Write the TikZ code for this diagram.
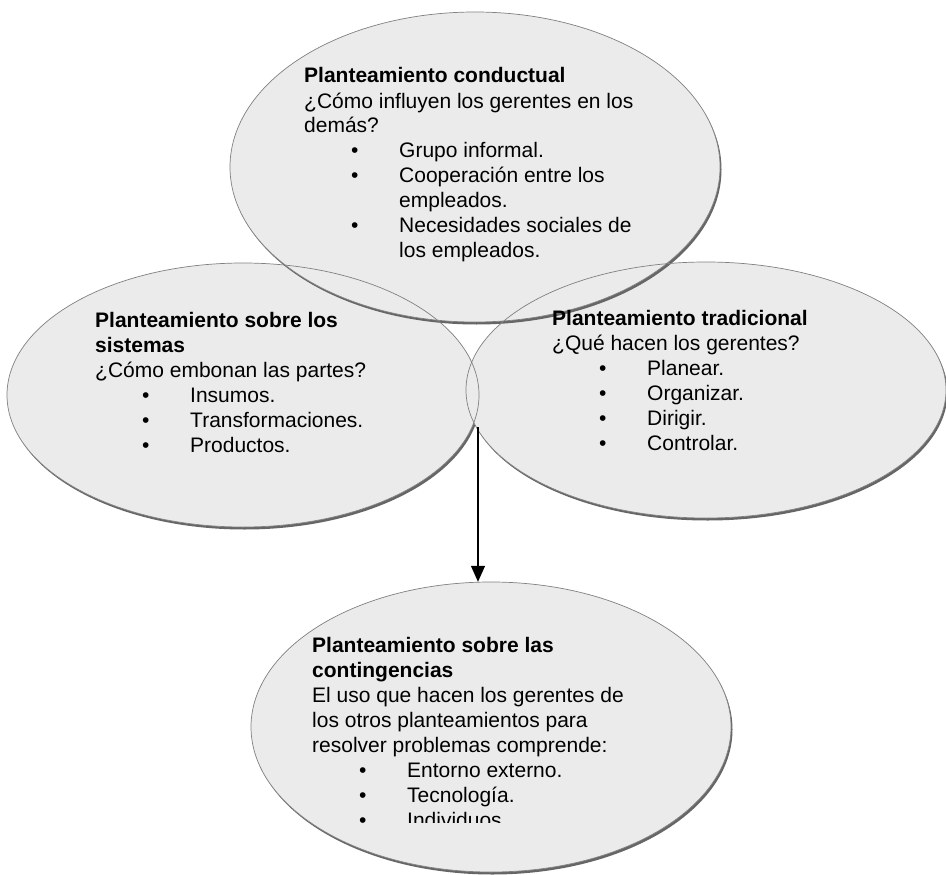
\documentclass[tikz,border=0pt]{standalone}
\usepackage{fontspec}
\setmainfont{Liberation Sans}
\usetikzlibrary{shapes.geometric,arrows.meta}

% bullet item and continuation line inside a bubble text block
\newcommand\itm{\hspace*{47pt}\makebox[48pt][l]{\textbullet}}
\newcommand\cont{\hspace*{95pt}}
\newcommand\blocktext[1]{\parbox[t]{440pt}{\raggedright #1}}

\begin{document}
\begin{tikzpicture}[x=1pt,y=-1pt,
  bubble/.style={ellipse, inner sep=0pt, fill=black!8},
  edge/.style={draw=black!50, line width=0.7pt},
  shadowfill/.style={fill=black!60},
  blocktxt/.style={anchor=base west, inner sep=0pt,
                   font=\fontsize{21}{25}\selectfont},
  flow/.style={-{Triangle[length=16pt,width=14pt]}, line width=1.3pt}]

\useasboundingbox[fill=white] (0,0) rectangle (946,875);

% the four approaches as overlapping bubbles with a lower-right shadow
\foreach \n/\cx/\cy/\rx/\ry in {left/243/395/236/132, right/706/390/240/128,
                                top/475/167/245/155, bottom/491/727/240/145} {
  \begin{scope}[even odd rule]
    \clip (0,0) rectangle (946,875)
         (\cx,\cy) ellipse [x radius=\rx, y radius=\ry];
    \fill[shadowfill] (\cx+1.5,\cy+2.5) ellipse [x radius=\rx, y radius=\ry];
  \end{scope}
  \node[bubble, minimum width={2*\rx pt}, minimum height={2*\ry pt}] (\n) at (\cx,\cy) {};
}
% outlines stay visible where the bubbles overlap
\foreach \cx/\cy/\rx/\ry in {243/395/236/132, 706/390/240/128,
                             475/167/245/155, 491/727/240/145}
  \draw[edge] (\cx,\cy) ellipse [x radius=\rx, y radius=\ry];

% texts
\node[blocktxt] (ttop) at (304,83) {\blocktext{%
  \textbf{Planteamiento conductual}\\
  ¿Cómo influyen los gerentes en los\\
  demás?\\
  \itm Grupo informal.\\
  \itm Cooperación entre los\\
  \cont empleados.\\
  \itm Necesidades sociales de\\
  \cont los empleados.}};

\node[blocktxt] (tleft) at (95,327) {\blocktext{%
  \textbf{Planteamiento sobre los}\\
  \textbf{sistemas}\\
  ¿Cómo embonan las partes?\\
  \itm Insumos.\\
  \itm Transformaciones.\\
  \itm Productos.}};

\node[blocktxt] (tright) at (552,325) {\blocktext{%
  \textbf{Planteamiento tradicional}\\
  ¿Qué hacen los gerentes?\\
  \itm Planear.\\
  \itm Organizar.\\
  \itm Dirigir.\\
  \itm Controlar.}};

\begin{scope}
  \clip (250,560) rectangle (740,822);
  \node[blocktxt] (tbottom) at (312,652) {\blocktext{%
    \textbf{Planteamiento sobre las}\\
    \textbf{contingencias}\\
    El uso que hacen los gerentes de\\
    los otros planteamientos para\\
    resolver problemas comprende:\\
    \itm Entorno externo.\\
    \itm Tecnología.\\
    \itm Individuos.}};
\end{scope}

% connector from the meeting point of the two side bubbles
\coordinate (join) at (478,427);
\draw[flow] (join) -- (join |- bottom.north);

\end{tikzpicture}
\end{document}
